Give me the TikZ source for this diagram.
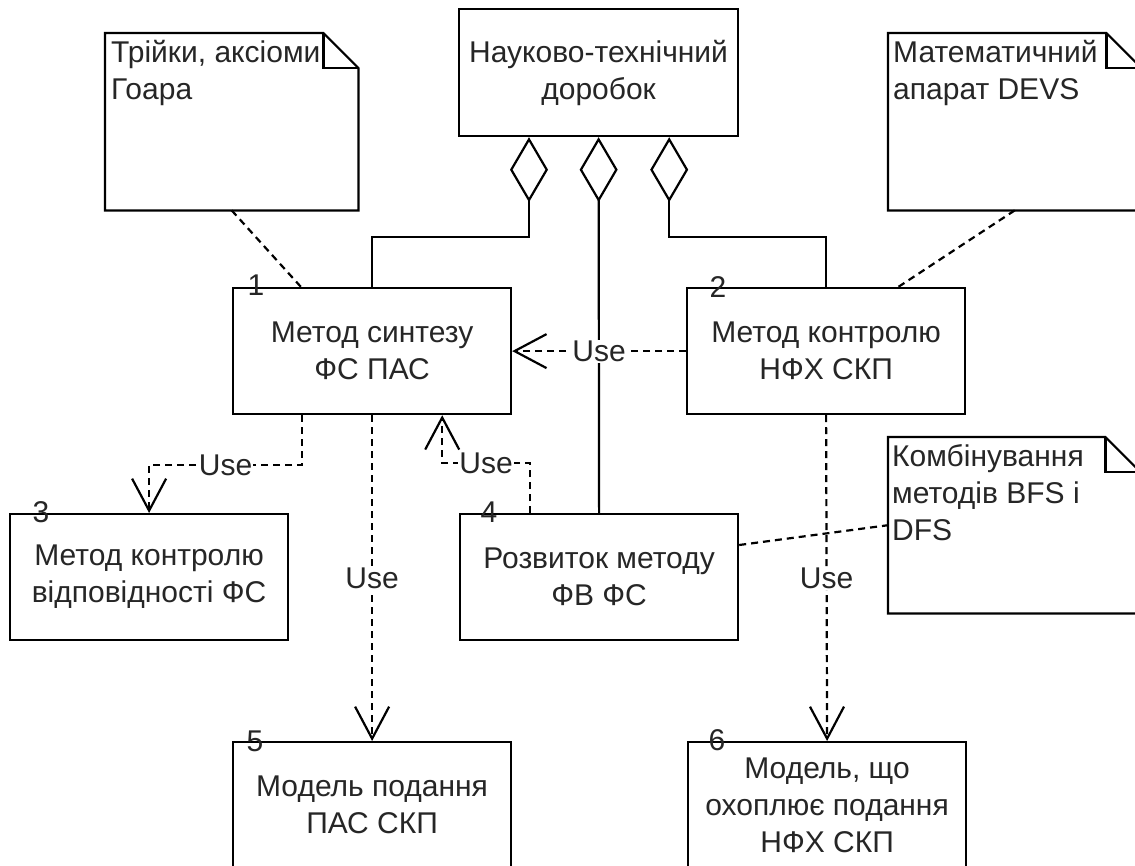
\documentclass[tikz,border=0pt]{standalone}
\usepackage{fontspec}
\setmainfont{Liberation Sans}
\usetikzlibrary{arrows.meta,calc}

% outline of a UML note with a folded top-right corner
\newcommand\notefold[1]{%
  \draw[line width=2.2pt, line join=miter] (#1.north west) -- ([xshift=-35pt]#1.north east)
    -- ([yshift=-35pt]#1.north east) -- (#1.south east) -- (#1.south west) -- cycle;
  \draw[line width=2.2pt] ([xshift=-35pt]#1.north east) -- ([xshift=-35pt,yshift=-35pt]#1.north east)
    -- ([yshift=-35pt]#1.north east);}

\begin{document}
\begin{tikzpicture}[x=1pt,y=-1pt,
  every node/.style={font=\fontsize{30}{37}\selectfont, text=black!85},
  box/.style={draw=black, line width=2.2pt, minimum width=278pt, minimum height=126pt,
    anchor=north west, align=center, inner sep=0pt},
  notebody/.style={minimum width=253pt, minimum height=177pt, anchor=north west, inner sep=0pt},
  notetext/.style={anchor=north west, align=left, inner sep=0pt},
  num/.style={inner sep=0pt},
  agg/.style={line width=2.2pt, {Diamond[open,length=65pt,width=38pt]}-},
  use/.style={line width=2.2pt, dash pattern=on 7pt off 5pt,
    -{Straight Barb[length=32pt,width=34pt]}},
  uselbl/.style={fill=white, inner sep=1pt},
  noteline/.style={line width=2.2pt, dash pattern=on 7pt off 5pt},
]
\path[use as bounding box] (0,0) rectangle (1135,865);
\clip (0,0) rectangle (1135,865);
\fill[white] (0,0) rectangle (1135,865);

% notes
\node[notebody] (n1) at (105,33) {};
\node[notetext] (n1t) at (111,34) {\rule{0pt}{28pt}Трійки, аксіоми\\Гоара};
\notefold{n1}
\node[notebody] (n2) at (888,33) {};
\node[notetext] (n2t) at (893,34) {\rule{0pt}{28pt}Математичний\\апарат DEVS};
\notefold{n2}
\node[notebody, minimum width=252pt, minimum height=176pt] (n3) at (888,437) {};
\node[notetext] (n3t) at (892,438) {\rule{0pt}{28pt}Комбінування\\методів BFS і\\DFS};
\notefold{n3}

% classes
\node[box, minimum width=279pt, minimum height=127pt] (top) at (458,8) {Науково-технічний\\доробок};
\node[box] (b1) at (232,287) {Метод синтезу\\ФС ПАС};
\node[box] (b2) at (686,287) {Метод контролю\\НФХ СКП};
\node[box] (b3) at (9,513) {Метод контролю\\відповідності ФС};
\node[box] (b4) at (459,513) {Розвиток методу\\ФВ ФС};
\node[box] (b5) at (232,741) {Модель подання\\ПАС СКП};
\node[box] (b6) at (687,741) {Модель, що\\охоплює подання\\НФХ СКП};

% class numbers
\node[num] (k1) at ([xshift=24pt,yshift=2pt]b1.north west) {1};
\node[num] (k2) at ([xshift=32pt]b2.north west) {2};
\node[num] (k3) at ([xshift=32pt,yshift=1pt]b3.north west) {3};
\node[num] (k4) at ([xshift=30pt,yshift=1pt]b4.north west) {4};
\node[num] (k5) at ([xshift=23pt]b5.north west) {5};
\node[num] (k6) at ([xshift=30pt,yshift=1pt]b6.north west) {6};

% aggregations
\draw[agg] ([xshift=71pt]top.south west) -- ++(0,100) -| (b1.north);
\draw[agg] (top.south) -- (b4.north);
\draw[agg] ([xshift=-70pt]top.south east) -- ++(0,100) -| (b2.north);

% dependencies
\draw[use] (b2.west) -- node[uselbl] {Use} (b1.east);
\draw[use] ([xshift=70pt]b1.south west) -- ++(0,50) -| node[uselbl, pos=0.25] {Use} (b3.north);
\draw[use] ([xshift=71pt]b4.north west) -- ++(0,-50) -| node[uselbl, pos=0.25] {Use} ([xshift=-70pt]b1.south east);
\draw[use] (b1.south) -- node[uselbl] {Use} (b5.north);
\draw[use] (b2.south) -- node[uselbl] {Use} (b6.north);

% note attachments
\draw[noteline] (n1.south) -- ([xshift=69pt]b1.north west);
\draw[noteline] (n2.south) -- ([xshift=-68pt]b2.north east);
\draw[noteline] ([yshift=-32pt]b4.north east) -- (n3.west);
\end{tikzpicture}
\end{document}
